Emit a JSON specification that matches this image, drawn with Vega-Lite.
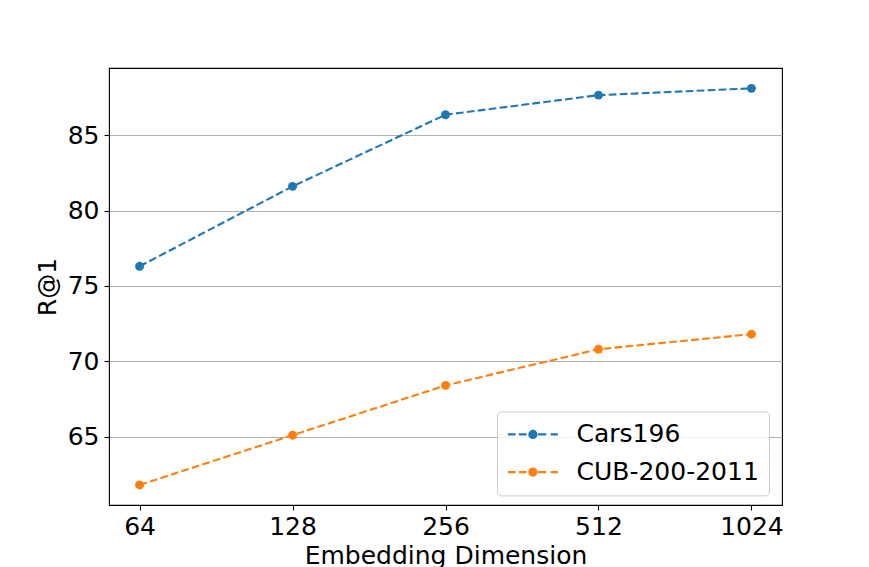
{
  "$schema": "https://vega.github.io/schema/vega-lite/v6.json",
  "autosize": "none",
  "padding": {"left": 109, "top": 68, "right": 87, "bottom": 62},
  "width": 673,
  "height": 437,
  "background": "white",
  "config": {
    "font": "DejaVu Sans",
    "view": {"stroke": "black", "strokeWidth": 1.1},
    "axis": {
      "labelFont": "DejaVu Sans",
      "titleFont": "DejaVu Sans",
      "labelFontSize": 25,
      "titleFontSize": 25,
      "labelColor": "black",
      "titleColor": "black",
      "titleFontWeight": "normal",
      "tickColor": "black",
      "tickSize": 5,
      "tickWidth": 1.1,
      "domain": false,
      "gridColor": "#b0b0b0",
      "gridWidth": 1.1
    }
  },
  "data": {
    "values": [
      {"dim": 64, "r1": 76.3, "dataset": "Cars196"},
      {"dim": 128, "r1": 81.6, "dataset": "Cars196"},
      {"dim": 256, "r1": 86.35, "dataset": "Cars196"},
      {"dim": 512, "r1": 87.65, "dataset": "Cars196"},
      {"dim": 1024, "r1": 88.1, "dataset": "Cars196"},
      {"dim": 64, "r1": 61.8, "dataset": "CUB-200-2011"},
      {"dim": 128, "r1": 65.1, "dataset": "CUB-200-2011"},
      {"dim": 256, "r1": 68.4, "dataset": "CUB-200-2011"},
      {"dim": 512, "r1": 70.8, "dataset": "CUB-200-2011"},
      {"dim": 1024, "r1": 71.8, "dataset": "CUB-200-2011"}
    ]
  },
  "encoding": {
    "x": {
      "field": "dim",
      "type": "quantitative",
      "title": "Embedding Dimension",
      "scale": {"type": "log", "base": 2, "domain": [55.72, 1176.1], "nice": false},
      "axis": {"values": [64, 128, 256, 512, 1024], "format": "d", "grid": false, "labelPadding": 4, "titlePadding": 4, "labelFlush": false}
    },
    "y": {
      "field": "r1",
      "type": "quantitative",
      "title": "R@1",
      "scale": {"domain": [60.47, 89.45], "nice": false, "zero": false},
      "axis": {"values": [65, 70, 75, 80, 85], "grid": true, "labelPadding": 5, "titlePadding": 7, "labelFlush": false}
    },
    "color": {
      "field": "dataset",
      "type": "nominal",
      "sort": ["Cars196", "CUB-200-2011"],
      "scale": {"domain": ["Cars196", "CUB-200-2011"], "range": ["#1f77b4", "#ff7f0e"]},
      "legend": {
        "title": null,
        "orient": "none",
        "legendX": 388,
        "legendY": 343.4,
        "padding": 10,
        "strokeColor": "#cccccc",
        "fillColor": "rgba(255,255,255,0.8)",
        "cornerRadius": 4,
        "labelFont": "DejaVu Sans",
        "labelFontSize": 25,
        "labelColor": "black",
        "labelLimit": 400,
        "symbolType": "M-2.174,0H-1.504M-1.217,0H-0.548M0.435,0H1.157M1.539,0H2.174M0.31,0A0.31,0.31,0,1,1,-0.31,0A0.31,0.31,0,1,1,0.31,0Z",
        "symbolSize": 529,
        "symbolStrokeWidth": 2.1,
        "symbolOffset": 12.9,
        "labelOffset": 30.6,
        "rowPadding": 11.7,
        "symbolOpacity": 1,
        "encode": {
          "symbols": {
            "update": {
              "fill": {"scale": "color", "field": "value"},
              "stroke": {"scale": "color", "field": "value"},
              "strokeDash": {"value": []},
              "opacity": {"value": 1}
            }
          }
        }
      }
    }
  },
  "layer": [
    {"mark": {"type": "line", "strokeWidth": 2.1, "strokeDash": [7.7, 3.3]}},
    {"mark": {"type": "point", "filled": true, "size": 80, "opacity": 1, "strokeWidth": 0}}
  ]
}
